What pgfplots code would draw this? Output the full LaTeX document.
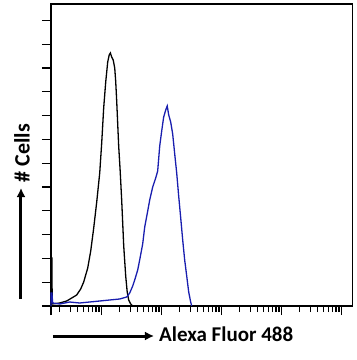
\documentclass[border=0pt]{standalone}
\usepackage{pgfplots}
\pgfplotsset{compat=1.18}
\usetikzlibrary{arrows.meta}
\usepackage{fontspec}
\setmainfont{Carlito}
\definecolor{flowblue}{RGB}{25,30,175}
\begin{document}
\begin{tikzpicture}
\useasboundingbox (-51pt,-54pt) rectangle (306pt,306pt);
\begin{axis}[at={(0,0)}, anchor=south west, scale only axis,
  width=301.5pt, height=302pt,
  xmin=0.155, xmax=5.18, ymin=0, ymax=302,
  axis line style={line width=1.6pt},
  xtick={0.155,1,2,3,4,5},
  minor xtick={0.301,0.477,0.602,0.699,0.778,0.845,0.903,0.954,
    1.301,1.477,1.602,1.699,1.778,1.845,1.903,1.954,
    2.301,2.477,2.602,2.699,2.778,2.845,2.903,2.954,
    3.301,3.477,3.602,3.699,3.778,3.845,3.903,3.954,
    4.301,4.477,4.602,4.699,4.778,4.845,4.903,4.954},
  ytick={0,23.8,47.6,71.4,95.2,119,142.8,166.6,190.4,214.2,238,261.8,285.6},
  xticklabels={}, yticklabels={},
  xtick pos=bottom, ytick pos=left,
  tick align=outside, major tick length=9pt, minor tick length=6pt,
  every tick/.style={line width=1.3pt, black},
  minor tick style={line width=1.3pt, black},
  clip=false,
]
\addplot[black, line width=1.3pt] coordinates {
(0.155,0)(0.155,48)(0.17,48)(0.175,2)(0.30,3)(0.417,5)(0.5,8)(0.583,11)(0.65,17)(0.70,24)
(0.767,38)(0.817,55)(0.867,78)(0.917,104)(0.967,133)(1.0,163)(1.033,198)(1.067,224)
(1.1,244)(1.125,251)(1.145,253)(1.167,249)(1.192,246)(1.217,238)(1.233,225)(1.25,205)
(1.283,160)(1.308,135)(1.333,106)(1.367,60)(1.4,30)(1.425,14)(1.45,6)(1.483,2)(1.517,0)
};
\addplot[flowblue, line width=1.3pt] coordinates {
(0.155,0)(0.155,13)(0.17,13)(0.183,3)(0.3,2)(0.467,4)(0.633,3)(0.8,4)(0.967,5)(1.133,6)
(1.3,7)(1.417,9)(1.467,13)(1.517,20)(1.55,26)(1.6,36)(1.633,46)(1.683,62)(1.717,79)
(1.767,95)(1.8,106)(1.85,119)(1.9,128)(1.933,135)(1.967,160)(2.0,175)(2.033,189)
(2.067,196)(2.092,200)(2.117,191)(2.15,184)(2.183,172)(2.217,152)(2.25,133)(2.283,110)
(2.317,88)(2.35,66)(2.383,46)(2.417,30)(2.45,14)(2.483,4)(2.5,0)
};
\end{axis}
\draw[line width=3pt, -{Latex[length=9pt,width=9pt]}] (-30pt,7pt) -- (-30pt,118pt);
\node[rotate=90, font=\bfseries\fontsize{22}{26}\selectfont, anchor=center] at (-29pt,153pt) {\# Cells};
\draw[line width=3pt, -{Latex[length=9pt,width=9pt]}] (2pt,-30pt) -- (103pt,-30pt);
\node[font=\bfseries\fontsize{21}{25}\selectfont, anchor=base west, inner sep=0pt] at (108pt,-35pt) {Alexa Fluor 488};
\end{tikzpicture}
\end{document}
